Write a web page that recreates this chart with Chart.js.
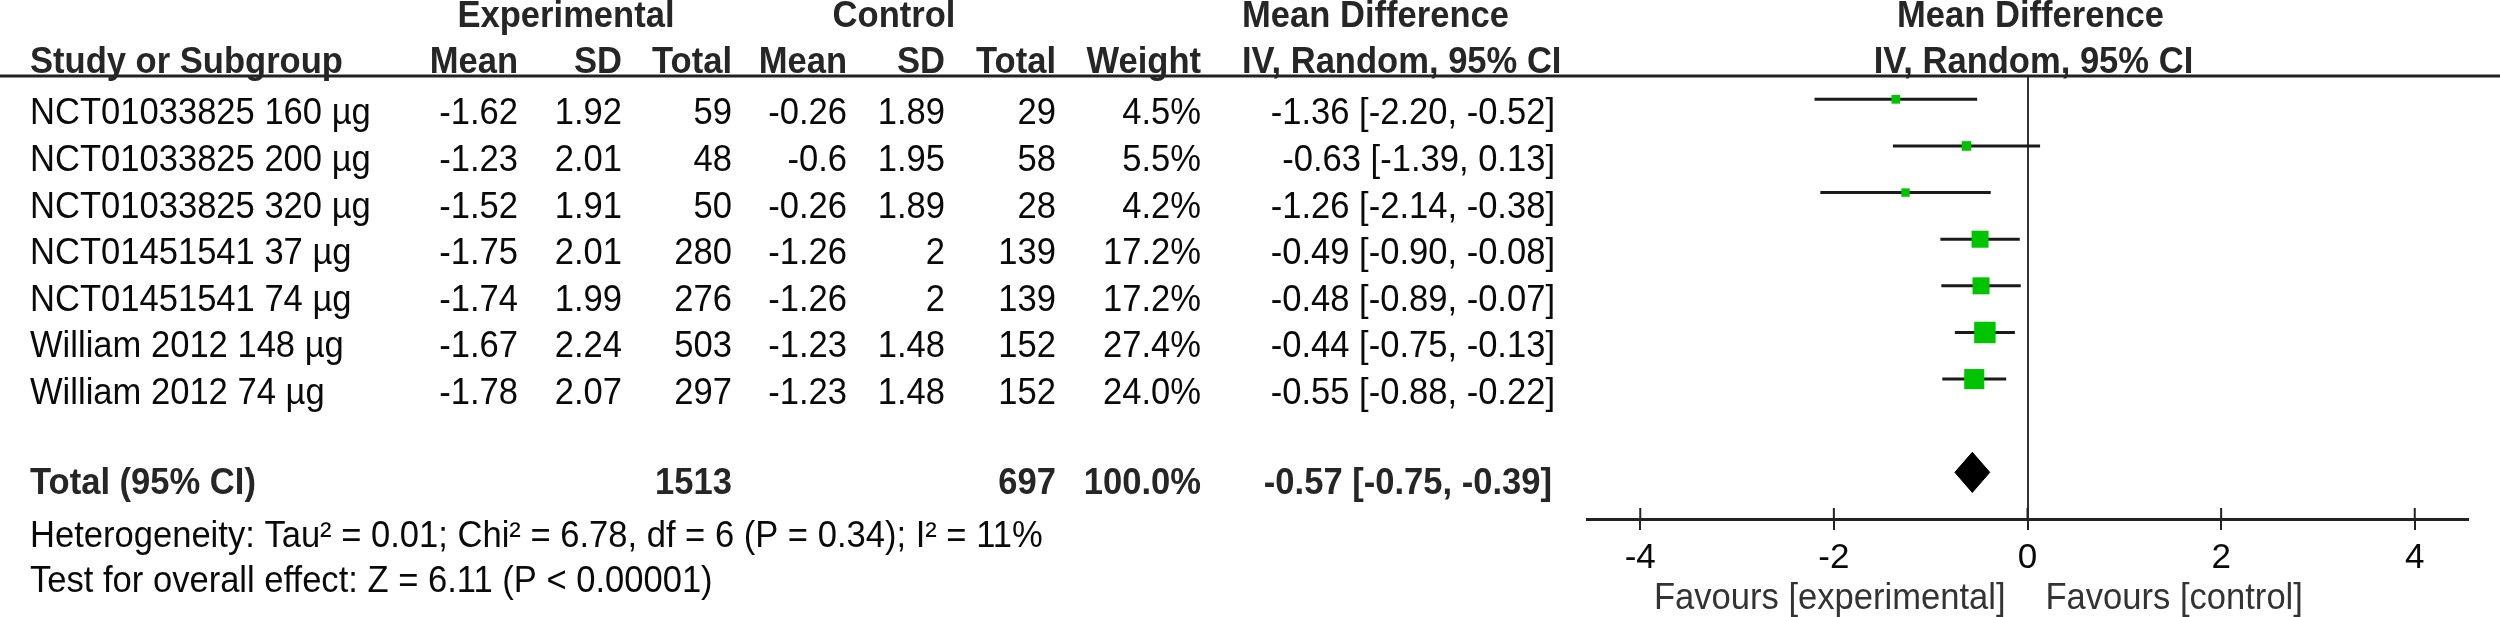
<!DOCTYPE html>
<html>
<head>
<meta charset="utf-8">
<script src="https://cdn.jsdelivr.net/npm/chart.js@4.4.1/dist/chart.umd.min.js"></script>
<style>
  html, body { margin: 0; padding: 0; background: #fff; }
  #wrap { width: 2500px; height: 617px; }
</style>
</head>
<body>
<div id="wrap"><canvas id="chart" width="2500" height="617"></canvas></div>
<script>
// study rows
const studies = [
  'NCT01033825 160 µg', 'NCT01033825 200 µg', 'NCT01033825 320 µg',
  'NCT01451541 37 µg', 'NCT01451541 74 µg',
  'William 2012 148 µg', 'William 2012 74 µg'
];
const expMean = [-1.62, -1.23, -1.52, -1.75, -1.74, -1.67, -1.78];
const expSD = [1.92, 2.01, 1.91, 2.01, 1.99, 2.24, 2.07];
const expTotal = [59, 48, 50, 280, 276, 503, 297];
const ctlMean = [-0.26, -0.6, -0.26, -1.26, -1.26, -1.23, -1.23];
const ctlSD = [1.89, 1.95, 1.89, 2, 2, 1.48, 1.48];
const ctlTotal = [29, 58, 28, 139, 139, 152, 152];
const weights = [4.5, 5.5, 4.2, 17.2, 17.2, 27.4, 24.0];
const mdEst = [-1.36, -0.63, -1.26, -0.49, -0.48, -0.44, -0.55];
const mdLow = [-2.20, -1.39, -2.14, -0.90, -0.89, -0.75, -0.88];
const mdHigh = [-0.52, 0.13, -0.38, -0.08, -0.07, -0.13, -0.22];

// pooled result
const totalExp = 1513;
const totalCtl = 697;
const totalWeight = 100.0;
const totalEst = -0.57;
const totalLow = -0.75;
const totalHigh = -0.39;

const xTicks = [-4, -2, 0, 2, 4];
const heterogeneity = 'Heterogeneity: Tau² = 0.01; Chi² = 6.78, df = 6 (P = 0.34); I² = 11%';
const overallTest = 'Test for overall effect: Z = 6.11 (P < 0.00001)';

const FONT = '"Liberation Sans", Arial, sans-serif';
const FS = 36;
const SX = 0.96;  // glyphs in the source are a touch taller than wide
const totalRow = 9;

function txt(ctx, s, x, y, align, bold, color) {
  ctx.save();
  ctx.font = (bold ? 'bold ' : '') + FS + 'px ' + FONT;
  ctx.fillStyle = color || (bold ? '#262626' : '#0a0a0a');
  ctx.textAlign = align;
  ctx.textBaseline = 'alphabetic';
  ctx.translate(x, y);
  ctx.scale(SX, 1);
  ctx.fillText(s, 0, 0);
  ctx.restore();
}

// column anchors of the table
const colRight = [518, 622, 732, 847, 945, 1056, 1201];
const mdRight = 1555;

const forestTable = {
  id: 'forestTable',
  afterDraw(chart) {
    const ctx = chart.ctx;
    const x = chart.scales.x;
    const y = chart.scales.y;

    // rule under the headers
    ctx.save();
    ctx.strokeStyle = '#222';
    ctx.lineWidth = 3;
    ctx.beginPath();
    ctx.moveTo(0, 76);
    ctx.lineTo(2500, 76);
    ctx.stroke();

    // upper half of the axis ticks
    ctx.lineWidth = 2;
    xTicks.forEach(v => {
      const px = x.getPixelForValue(v);
      ctx.beginPath();
      ctx.moveTo(px, x.top - 11);
      ctx.lineTo(px, x.top);
      ctx.stroke();
    });
    ctx.restore();

    // headers
    txt(ctx, 'Experimental', 566, 27, 'center', true);
    txt(ctx, 'Control', 894, 27, 'center', true);
    txt(ctx, 'Mean Difference', 1242, 27, 'left', true);
    txt(ctx, 'Mean Difference', x.getPixelForValue(0) + 3, 27, 'center', true);
    txt(ctx, 'Study or Subgroup', 30, 73, 'left', true);
    ['Mean', 'SD', 'Total', 'Mean', 'SD', 'Total', 'Weight'].forEach((h, i) => {
      txt(ctx, h, colRight[i], 73, 'right', true);
    });
    txt(ctx, 'IV, Random, 95% CI', 1242, 73, 'left', true);
    txt(ctx, 'IV, Random, 95% CI', x.getPixelForValue(0) + 6, 73, 'center', true);

    // study rows
    studies.forEach((s, i) => {
      const by = y.getPixelForValue(i + 1) + 25;
      txt(ctx, s, 30, by, 'left');
      const cells = [String(expMean[i]), String(expSD[i]), String(expTotal[i]),
        String(ctlMean[i]), String(ctlSD[i]), String(ctlTotal[i]), weights[i].toFixed(1) + '%'];
      cells.forEach((c, j) => txt(ctx, c, colRight[j], by, 'right'));
      txt(ctx, mdEst[i].toFixed(2) + ' [' + mdLow[i].toFixed(2) + ', ' + mdHigh[i].toFixed(2) + ']',
        mdRight, by, 'right');
    });

    // total row
    const ty = y.getPixelForValue(totalRow) + 22;
    txt(ctx, 'Total (95% CI)', 30, ty, 'left', true);
    txt(ctx, String(totalExp), colRight[2], ty, 'right', true);
    txt(ctx, String(totalCtl), colRight[5], ty, 'right', true);
    txt(ctx, totalWeight.toFixed(1) + '%', colRight[6], ty, 'right', true);
    txt(ctx, totalEst.toFixed(2) + ' [' + totalLow.toFixed(2) + ', ' + totalHigh.toFixed(2) + ']',
      mdRight - 3, ty, 'right', true);

    txt(ctx, heterogeneity, 30, 547, 'left');
    txt(ctx, overallTest, 30, 592, 'left');

    // favours labels
    const zx = x.getPixelForValue(0);
    txt(ctx, 'Favours [experimental]', zx - 22, 609, 'right', false, '#333');
    txt(ctx, 'Favours [control]', zx + 18, 609, 'left', false, '#333');
  }
};

const datasets = [];

// effect squares, sized by weight (drawn on top, so first)
datasets.push({
  type: 'scatter',
  data: studies.map((s, i) => ({ x: mdEst[i], y: i + 1 })),
  pointStyle: 'rect',
  pointRadius: weights.map(w => 2.9 * Math.sqrt(w)),
  backgroundColor: '#00c400',
  borderWidth: 0
});

// confidence intervals
studies.forEach((s, i) => {
  datasets.push({
    type: 'line',
    data: [{ x: mdLow[i], y: i + 1 }, { x: mdHigh[i], y: i + 1 }],
    borderColor: '#1a1a1a',
    borderWidth: 3,
    pointRadius: 0,
    fill: false
  });
});

// pooled diamond: upper half filled down to lower half
const half = 0.43;
datasets.push({
  type: 'line',
  data: [{ x: totalLow, y: totalRow }, { x: totalEst, y: totalRow - half }, { x: totalHigh, y: totalRow }],
  borderColor: '#000',
  borderWidth: 1,
  backgroundColor: '#000',
  pointRadius: 0,
  tension: 0,
  fill: '+1'
});
datasets.push({
  type: 'line',
  data: [{ x: totalLow, y: totalRow }, { x: totalEst, y: totalRow + half }, { x: totalHigh, y: totalRow }],
  borderColor: '#000',
  borderWidth: 1,
  pointRadius: 0,
  tension: 0,
  fill: false
});

new Chart(document.getElementById('chart'), {
  type: 'scatter',
  data: { datasets },
  options: {
    responsive: false,
    animation: false,
    events: [],
    layout: { padding: { left: 1587, right: 32, top: 76, bottom: 0 } },
    plugins: { legend: { display: false }, tooltip: { enabled: false } },
    scales: {
      x: {
        type: 'linear',
        min: -4.55,
        max: 4.55,
        afterBuildTicks: s => { s.ticks = xTicks.map(v => ({ value: v })); },
        afterFit: s => { s.height = 98; },
        border: { display: true, color: '#222', width: 3 },
        grid: {
          drawOnChartArea: true,
          drawTicks: true,
          tickLength: 11,
          tickWidth: 2,
          tickColor: '#222',
          lineWidth: 2,
          color: c => (c.tick && c.tick.value === 0 ? '#333' : 'rgba(0,0,0,0)')
        },
        ticks: {
          font: { family: FONT, size: 35 },
          color: '#0a0a0a',
          padding: 7,
          maxRotation: 0
        }
      },
      y: {
        type: 'linear',
        display: false,
        reverse: true,
        min: 0.5,
        max: 10
      }
    }
  },
  plugins: [forestTable]
});
</script>
</body>
</html>
